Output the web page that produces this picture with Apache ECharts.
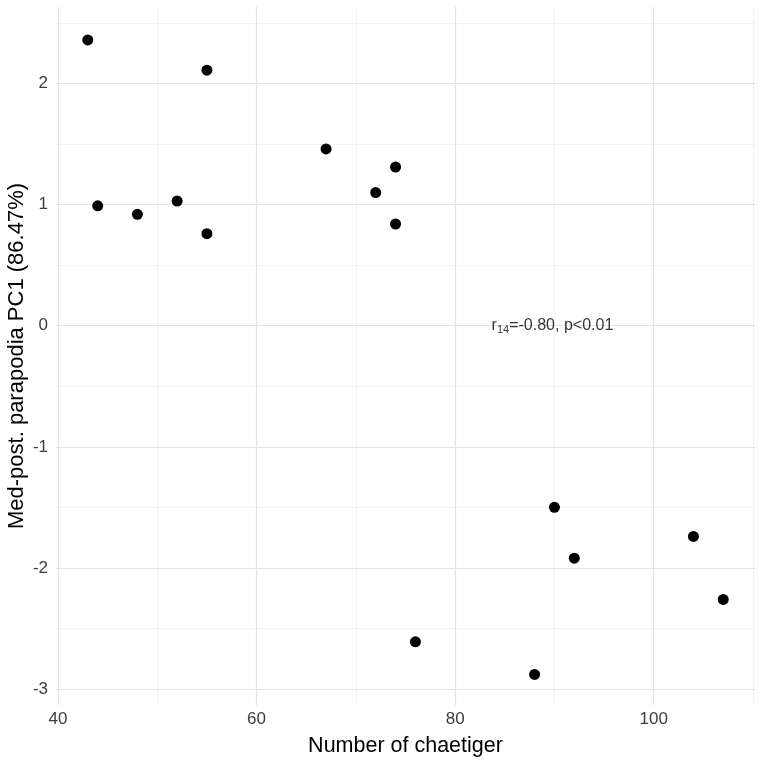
<!DOCTYPE html>
<html>
<head>
<meta charset="utf-8">
<script src="https://cdn.jsdelivr.net/npm/echarts@6/dist/echarts.min.js"></script>
<style>
  html, body { margin: 0; padding: 0; background: #fff; }
  #main { width: 763px; height: 763px; }
</style>
</head>
<body>
<div id="main"></div>
<script>
// data
var chaetiger = [43, 44, 48, 52, 55, 55, 67, 72, 74, 74, 76, 88, 90, 92, 104, 107];
var pc1 = [2.36, 0.99, 0.92, 1.03, 2.11, 0.76, 1.46, 1.10, 1.31, 0.84, -2.61, -2.88, -1.50, -1.92, -1.74, -2.26];
var xTicks = [40, 60, 80, 100];
var xMinor = [50, 70, 90, 110];
var yTicks = [-3, -2, -1, 0, 1, 2];
var yMinor = [-2.5, -1.5, -0.5, 0.5, 1.5, 2.5];
var annotation = { x: 89.8, y: 0, r: '-0.80', p: '<0.01', df: '14' };

var font = '"Liberation Sans", Arial, Helvetica, sans-serif';

var chart = echarts.init(document.getElementById('main'));

var gridLines = [];
xMinor.forEach(function (v) { gridLines.push({ xAxis: v, lineStyle: { color: '#ececec', width: 0.7 } }); });
yMinor.forEach(function (v) { gridLines.push({ yAxis: v, lineStyle: { color: '#ececec', width: 0.7 } }); });
xTicks.forEach(function (v) { gridLines.push({ xAxis: v, lineStyle: { color: '#e2e2e2', width: 1.2 } }); });
yTicks.forEach(function (v) { gridLines.push({ yAxis: v, lineStyle: { color: '#e2e2e2', width: 1.2 } }); });

function isIn(list, v) {
    for (var i = 0; i < list.length; i++) {
        if (Math.abs(list[i] - v) < 1e-6) return true;
    }
    return false;
}

var points = [];
for (var i = 0; i < chaetiger.length; i++) {
    points.push([chaetiger[i], pc1[i]]);
}

var option = {
    animation: false,
    backgroundColor: '#ffffff',
    grid: { left: 56, right: 8, top: 7, bottom: 58, outerBoundsMode: 'none', containLabel: false },
    xAxis: {
        type: 'value',
        min: 39.8,
        max: 110.2,
        splitNumber: 7,
        name: 'Number of chaetiger',
        nameLocation: 'middle',
        nameGap: 30,
        nameTextStyle: { color: '#000', fontSize: 21.5, fontFamily: font },
        axisLine: { show: false },
        axisTick: { show: false },
        splitLine: { show: false },
        axisLabel: {
            color: '#3d3d3d',
            fontSize: 17,
            fontFamily: font,
            margin: 6,
            formatter: function (v) { return isIn(xTicks, v) ? String(Math.round(v)) : ''; }
        }
    },
    yAxis: {
        type: 'value',
        min: -3.132,
        max: 2.632,
        splitNumber: 6,
        name: 'Med-post. parapodia PC1 (86.47%)',
        nameLocation: 'middle',
        nameGap: 28,
        nameMoveOverlap: false,
        nameTextStyle: { color: '#000', fontSize: 22, fontFamily: font },
        axisLine: { show: false },
        axisTick: { show: false },
        splitLine: { show: false },
        axisLabel: {
            color: '#3d3d3d',
            fontSize: 17,
            fontFamily: font,
            margin: 8,
            formatter: function (v) { return isIn(yTicks, v) ? String(Math.round(v)) : ''; }
        }
    },
    series: [
        {
            type: 'scatter',
            data: [],
            silent: true,
            markLine: {
                silent: true,
                symbol: ['none', 'none'],
                label: { show: false },
                lineStyle: { type: 'solid' },
                data: gridLines
            }
        },
        {
            type: 'scatter',
            data: points,
            symbol: 'circle',
            symbolSize: 11,
            itemStyle: { color: '#000', opacity: 1 },
            z: 5
        },
        {
            type: 'scatter',
            data: [[annotation.x, annotation.y]],
            symbolSize: 0,
            silent: true,
            z: 6,
            label: {
                show: true,
                position: 'inside',
                formatter: 'r{sub|' + annotation.df + '}=' + annotation.r + ', p' + annotation.p,
                color: '#000',
                fontSize: 16,
                fontFamily: font,
                rich: {
                    sub: { fontSize: 11, fontFamily: font, color: '#000', padding: [9, 0, 0, 0] }
                }
            }
        }
    ]
};

chart.setOption(option);
</script>
</body>
</html>
